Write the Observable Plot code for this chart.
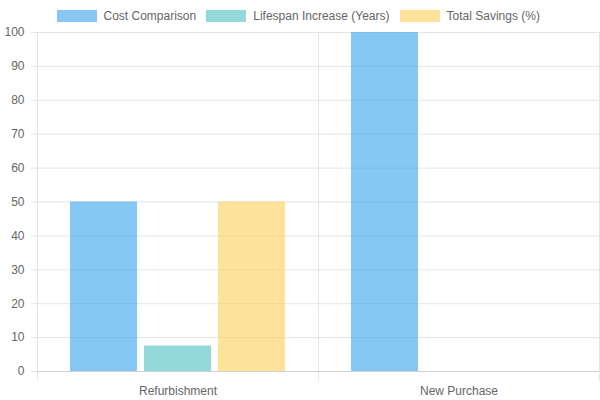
<!DOCTYPE html>
<html>
<head>
<meta charset="utf-8">
<script src="https://cdn.jsdelivr.net/npm/d3@7"></script>
<script src="https://cdn.jsdelivr.net/npm/@observablehq/plot@0.6"></script>
<style>
  html, body { margin: 0; padding: 0; background: #fff; }
  body { width: 600px; height: 400px; overflow: hidden; font-family: "Liberation Sans", Arial, sans-serif; }
  #legend { position: relative; height: 24px; display: flex; align-items: flex-start; padding-left: 56.5px; padding-top: 10px; font-size: 12px; line-height: 12px; color: #666; box-sizing: border-box; }
  .item { display: flex; align-items: center; margin-right: 10px; }
  .sw { width: 40px; height: 12px; margin-right: 7px; }
</style>
</head>
<body>
<div id="legend"></div>
<div id="chart"></div>
<script>
const categories = ["Refurbishment", "New Purchase"];
const series = ["Cost Comparison", "Lifespan Increase (Years)", "Total Savings (%)"];
const costComparison = [50, 100];
const lifespanIncrease = [7.5, 0];
const totalSavings = [50, 0];
const colors = ["rgba(54,162,235,0.6)", "rgba(75,192,192,0.6)", "rgba(255,206,86,0.6)"];
const yTicks = [0, 10, 20, 30, 40, 50, 60, 70, 80, 90, 100];

const valuesBySeries = [costComparison, lifespanIncrease, totalSavings];
const data = [];
categories.forEach((c, i) => {
  series.forEach((s, j) => data.push({category: c, series: s, value: valuesBySeries[j][i]}));
});

const legend = document.getElementById("legend");
series.forEach((s, j) => {
  const it = document.createElement("div");
  it.className = "item";
  const sw = document.createElement("div");
  sw.className = "sw";
  sw.style.background = colors[j];
  it.appendChild(sw);
  const t = document.createElement("span");
  t.textContent = s;
  it.appendChild(t);
  legend.appendChild(it);
});

const chart = Plot.plot({
  width: 600,
  height: 376,
  marginTop: 8,
  marginBottom: 29,
  marginLeft: 36,
  marginRight: 1,
  style: {fontFamily: "'Liberation Sans', Arial, sans-serif", fontSize: "12px", color: "#666", background: "#fff", overflow: "visible"},
  fx: {domain: categories, padding: 0, label: null, tickSize: 0, tickPadding: 15},
  x: {domain: series, paddingInner: 0.1, paddingOuter: 0.425, axis: null},
  y: {domain: [0, 100], label: null, ticks: yTicks, tickSize: 6, tickPadding: 7},
  color: {domain: series, range: colors},
  marks: [
    Plot.gridY(yTicks, {stroke: "#e5e5e5", strokeOpacity: 1}),
    Plot.frame({anchor: "left", stroke: "#e5e5e5", insetBottom: -9}),
    Plot.frame({anchor: "right", stroke: "#e5e5e5", insetBottom: -9}),
    Plot.barY(data, {fx: "category", x: "series", y: "value", fill: "series"}),
    Plot.ruleY([0], {stroke: "#d0d0d0"}),
    Plot.axisY({ticks: yTicks, tickSize: 6, tickPadding: 7, stroke: "#e5e5e5", strokeOpacity: 1, fill: "#666", label: null})
  ]
});
document.getElementById("chart").appendChild(chart);
</script>
</body>
</html>
